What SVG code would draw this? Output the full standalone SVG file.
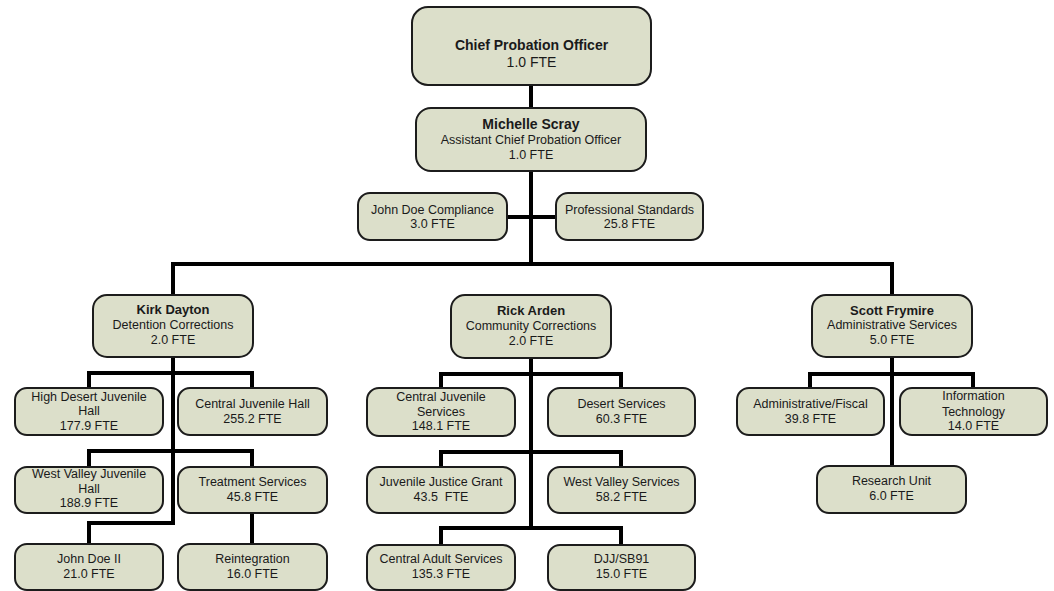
<svg xmlns="http://www.w3.org/2000/svg" width="1054" height="591" viewBox="0 0 1054 591">
<style>
.box{fill:#dcdfca;stroke:#1c1c1c;stroke-width:2}
.t{font-family:"Liberation Sans",Arial,sans-serif;font-size:12.5px;fill:#1a1a1a;text-anchor:middle}
.b{font-weight:bold;font-size:13px}
.big{font-size:14px}
.c{fill:none;stroke:#000;stroke-width:4;stroke-linecap:square;stroke-linejoin:miter}
</style>
<rect width="1054" height="591" fill="#fff"/>
<g id="connectors">
<path class="c" d="M531,85V108"/>
<path class="c" d="M531,171V264"/>
<path class="c" d="M507,217H556"/>
<path class="c" d="M173,295V264H892V295"/>
<path class="c" d="M173,357V523H89V544"/>
<path class="c" d="M89,388V373H252V388"/>
<path class="c" d="M89,467V451H252V467"/>
<path class="c" d="M252,513V544"/>
<path class="c" d="M531,358V528"/>
<path class="c" d="M441,388V374H621V388"/>
<path class="c" d="M441,467V452H621V467"/>
<path class="c" d="M441,545V528H621V545"/>
<path class="c" d="M892,357V466"/>
<path class="c" d="M810,388V374H973V388"/>
</g>
<g id="chief"><rect class="box" x="412" y="7" width="239" height="78" rx="16"/>
<text class="t b big" x="531.5" y="50">Chief Probation Officer</text><text class="t big" x="531.5" y="67">1.0 FTE</text></g>
<g id="michelle"><rect class="box" x="416" y="108" width="230" height="63" rx="15"/>
<text class="t b big" x="531" y="129">Michelle Scray</text><text class="t" x="531" y="144">Assistant Chief Probation Officer</text><text class="t" x="531" y="159">1.0 FTE</text></g>
<g id="compliance"><rect class="box" x="358" y="193" width="149" height="47" rx="12"/>
<text class="t" x="432.5" y="214">John Doe Compliance</text><text class="t" x="432.5" y="228">3.0 FTE</text></g>
<g id="standards"><rect class="box" x="556" y="193" width="147" height="47" rx="12"/>
<text class="t" x="629.5" y="214">Professional Standards</text><text class="t" x="629.5" y="228">25.8 FTE</text></g>
<g id="kirk"><rect class="box" x="93" y="295" width="160" height="62" rx="14"/>
<text class="t b" x="173" y="314">Kirk Dayton</text><text class="t" x="173" y="329">Detention Corrections</text><text class="t" x="173" y="344">2.0 FTE</text></g>
<g id="rick"><rect class="box" x="451" y="295" width="160" height="63" rx="14"/>
<text class="t b" x="531" y="315">Rick Arden</text><text class="t" x="531" y="330">Community Corrections</text><text class="t" x="531" y="345">2.0 FTE</text></g>
<g id="scott"><rect class="box" x="812" y="295" width="160" height="62" rx="14"/>
<text class="t b" x="892" y="315">Scott Frymire</text><text class="t" x="892" y="329">Administrative Services</text><text class="t" x="892" y="344">5.0 FTE</text></g>
<g id="highdesert"><rect class="box" x="15" y="388" width="148" height="47" rx="12"/>
<text class="t" x="89" y="401">High Desert Juvenile</text><text class="t" x="89" y="415">Hall</text><text class="t" x="89" y="430">177.9 FTE</text></g>
<g id="centraljh"><rect class="box" x="178" y="388" width="149" height="47" rx="12"/>
<text class="t" x="252.5" y="408">Central Juvenile Hall</text><text class="t" x="252.5" y="423">255.2 FTE</text></g>
<g id="westvalleyjh"><rect class="box" x="15" y="467" width="148" height="46" rx="12"/>
<text class="t" x="89" y="478">West Valley Juvenile</text><text class="t" x="89" y="493">Hall</text><text class="t" x="89" y="507">188.9 FTE</text></g>
<g id="treatment"><rect class="box" x="178" y="467" width="149" height="46" rx="12"/>
<text class="t" x="252.5" y="486">Treatment Services</text><text class="t" x="252.5" y="501">45.8 FTE</text></g>
<g id="johndoe2"><rect class="box" x="15" y="544" width="148" height="46" rx="12"/>
<text class="t" x="89" y="563">John Doe II</text><text class="t" x="89" y="578">21.0 FTE</text></g>
<g id="reintegration"><rect class="box" x="178" y="544" width="149" height="46" rx="12"/>
<text class="t" x="252.5" y="563">Reintegration</text><text class="t" x="252.5" y="578">16.0 FTE</text></g>
<g id="cjs"><rect class="box" x="367" y="388" width="148" height="48" rx="12"/>
<text class="t" x="441" y="401">Central Juvenile</text><text class="t" x="441" y="416">Services</text><text class="t" x="441" y="430">148.1 FTE</text></g>
<g id="desert"><rect class="box" x="548" y="388" width="147" height="48" rx="12"/>
<text class="t" x="621.5" y="408">Desert Services</text><text class="t" x="621.5" y="423">60.3 FTE</text></g>
<g id="jjg"><rect class="box" x="367" y="467" width="148" height="46" rx="12"/>
<text class="t" x="441" y="486">Juvenile Justice Grant</text><text class="t" x="441" y="501" xml:space="preserve">43.5  FTE</text></g>
<g id="westvalleys"><rect class="box" x="548" y="467" width="147" height="46" rx="12"/>
<text class="t" x="621.5" y="486">West Valley Services</text><text class="t" x="621.5" y="501">58.2 FTE</text></g>
<g id="cas"><rect class="box" x="367" y="545" width="148" height="45" rx="12"/>
<text class="t" x="441" y="563">Central Adult Services</text><text class="t" x="441" y="578">135.3 FTE</text></g>
<g id="djj"><rect class="box" x="548" y="545" width="147" height="45" rx="12"/>
<text class="t" x="621.5" y="563">DJJ/SB91</text><text class="t" x="621.5" y="578">15.0 FTE</text></g>
<g id="fiscal"><rect class="box" x="737" y="388" width="147" height="47" rx="12"/>
<text class="t" x="810.5" y="408">Administrative/Fiscal</text><text class="t" x="810.5" y="423">39.8 FTE</text></g>
<g id="it"><rect class="box" x="900" y="388" width="147" height="47" rx="12"/>
<text class="t" x="973.5" y="400">Information</text><text class="t" x="973.5" y="416">Technology</text><text class="t" x="973.5" y="430">14.0 FTE</text></g>
<g id="research"><rect class="box" x="817" y="466" width="149" height="47" rx="12"/>
<text class="t" x="891.5" y="485">Research Unit</text><text class="t" x="891.5" y="500">6.0 FTE</text></g>
</svg>
